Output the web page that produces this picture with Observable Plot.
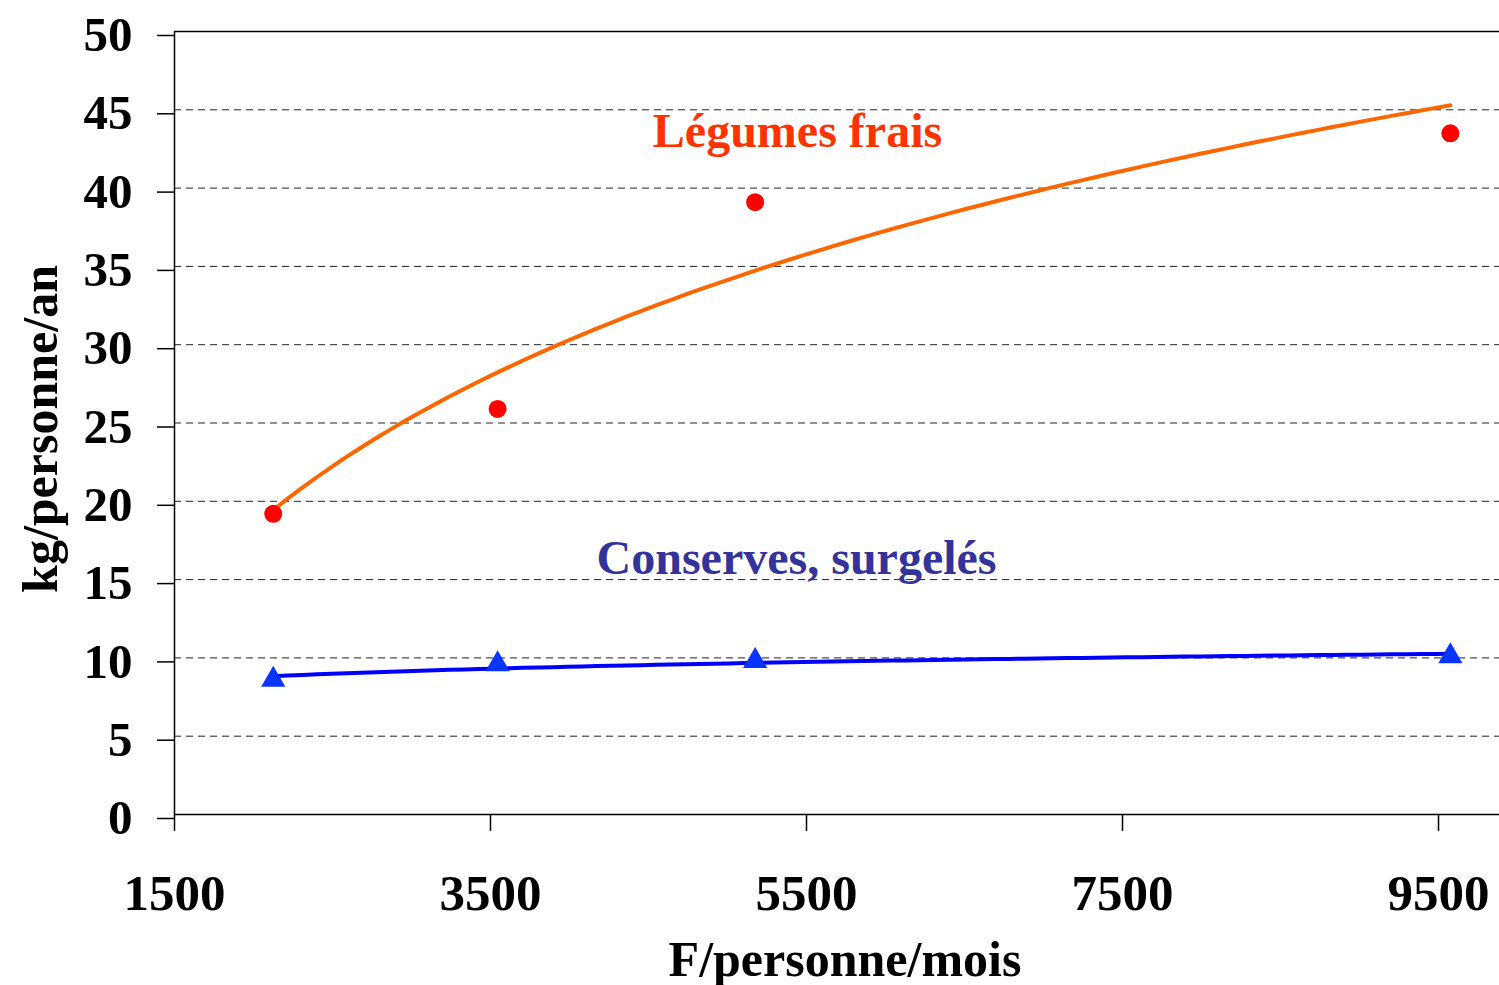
<!DOCTYPE html>
<html><head><meta charset="utf-8">
<script src="https://cdn.jsdelivr.net/npm/d3@7"></script>
<script src="https://cdn.jsdelivr.net/npm/@observablehq/plot@0.6"></script>
<style>body{margin:0;background:#fff} #chart svg{font-family:"Liberation Serif","Times New Roman",serif;font-weight:bold}</style>
</head><body><div id="chart"></div>
<script>
// Data
const income = [2125, 3545, 5175, 9575];          // F/personne/mois
const legumesFrais = [19.2, 25.9, 39.1, 43.5];    // kg/personne/an
const conserves = [8.6, 9.6, 9.8, 10.1];          // kg/personne/an
const xTicks = [1500, 3500, 5500, 7500, 9500];
const yTicks = [0, 5, 10, 15, 20, 25, 30, 35, 40, 45, 50];
const seriesLabels = ["Légumes frais", "Conserves, surgelés"];

// Logarithmic trend line (least squares on ln x), as in the original spreadsheet chart
function logTrend(xs, ys, n = 80) {
  const lx = xs.map(Math.log);
  const mx = d3.mean(lx), my = d3.mean(ys);
  const a = d3.sum(lx, (v, i) => (v - mx) * (ys[i] - my)) / d3.sum(lx, v => (v - mx) ** 2);
  const b = my - a * mx;
  const [x0, x1] = d3.extent(xs);
  return d3.range(n + 1).map(i => {
    const x = x0 + (x1 - x0) * i / n;
    return {x, y: a * Math.log(x) + b};
  });
}

const fraisPts = income.map((x, i) => ({x, y: legumesFrais[i]}));
const consPts = income.map((x, i) => ({x, y: conserves[i]}));

const chart = Plot.plot({
  width: 1499, height: 985,
  marginLeft: 174, marginRight: 0, marginTop: 31, marginBottom: 171,
  style: {fontFamily: "Liberation Serif", fontWeight: "bold", background: "white", color: "#000"},
  x: {domain: [1500, 9886]},
  y: {domain: [0, 50]},
  marks: [
    Plot.gridY(yTicks.filter(d => d > 0 && d < 50), {stroke: "#222", strokeOpacity: 1, strokeDasharray: "7,5"}),
    Plot.ruleY([0, 50], {stroke: "#000", strokeWidth: 1.5}),
    Plot.ruleX([1500], {stroke: "#000", strokeWidth: 1.5}),
    Plot.axisY(yTicks, {tickSize: 17, tickPadding: 25, fontSize: 49, dy: 4, label: null, tickFormat: d => String(d), strokeWidth: 1.5}),
    Plot.axisX(xTicks, {tickSize: 17, tickPadding: 42, fontSize: 51, label: null, tickFormat: d => String(d), strokeWidth: 1.5}),
    Plot.text(["F/personne/mois"], {frameAnchor: "bottom", dx: 8, dy: 145, fontSize: 50, lineAnchor: "middle", textAnchor: "middle"}),
    Plot.text(["kg/personne/an"], {frameAnchor: "left", dx: -134, dy: 6, rotate: -90, fontSize: 50, lineAnchor: "middle", textAnchor: "middle"}),
    Plot.line(logTrend(income, legumesFrais), {x: "x", y: "y", stroke: "#ff6600", strokeWidth: 4}),
    Plot.line(logTrend(income, conserves), {x: "x", y: "y", stroke: "#0000ff", strokeWidth: 4}),
    Plot.dot(fraisPts, {x: "x", y: "y", r: 9, fill: "#ff0000", stroke: "none"}),
    Plot.dot(consPts, {x: "x", y: "y", r: 9, symbol: "triangle", fill: "#0a35ff", stroke: "none"}),
    Plot.text([seriesLabels[0]], {x: 5443, y: 43.58, fill: "#ff3300", fontSize: 48, lineAnchor: "middle"}),
    Plot.text([seriesLabels[1]], {x: 5437, y: 16.37, fill: "#333399", fontSize: 48, lineAnchor: "middle"})
  ]
});
document.getElementById("chart").appendChild(chart);
</script>
</body></html>
